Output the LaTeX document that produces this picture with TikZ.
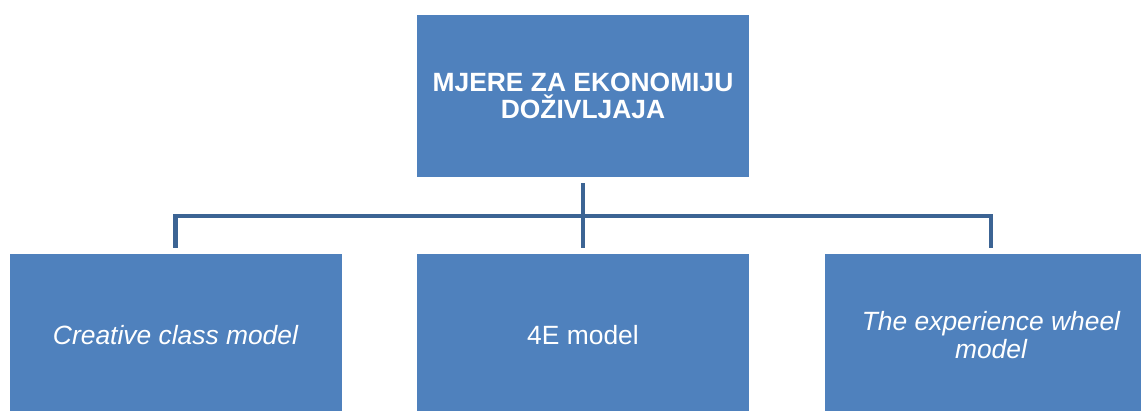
\documentclass[tikz,border=0pt]{standalone}
\usepackage{fontspec}
\setmainfont{Liberation Sans}
\definecolor{plava}{HTML}{4F81BD}
\definecolor{tamna}{HTML}{3C6494}
\tikzset{
  kutija/.style={fill=plava,text=white,minimum width=332pt,minimum height=162pt,
    inner sep=0pt,align=center,font=\fontsize{26.4}{27.4}\selectfont},
  veza/.style={draw=tamna,line width=4.5pt,shorten <=6pt,shorten >=6pt}
}
\begin{document}
\begin{tikzpicture}[x=1pt,y=1pt]
	% Okvir slike
	\clip (0,0) rectangle (1141,410);

	% Glavni pojam
	\node[kutija] (vrh) at (583,314) {\textbf{MJERE ZA EKONOMIJU}\\\textbf{DOŽIVLJAJA}};

	% Modeli
	\node[kutija] (lijevo) at (175.5,75) {\itshape Creative class model};
	\node[kutija] (srednje) at (583,75) {4E model};
	\node[kutija] (desno) at (991,75) {\itshape The experience wheel\\\itshape model};

	% Veze
	\coordinate (rama) at (583,194);
	\draw[veza] (vrh.south) -- (srednje.north);
	\draw[veza] (lijevo.north) |- (rama) -| (desno.north);
\end{tikzpicture}
\end{document}
